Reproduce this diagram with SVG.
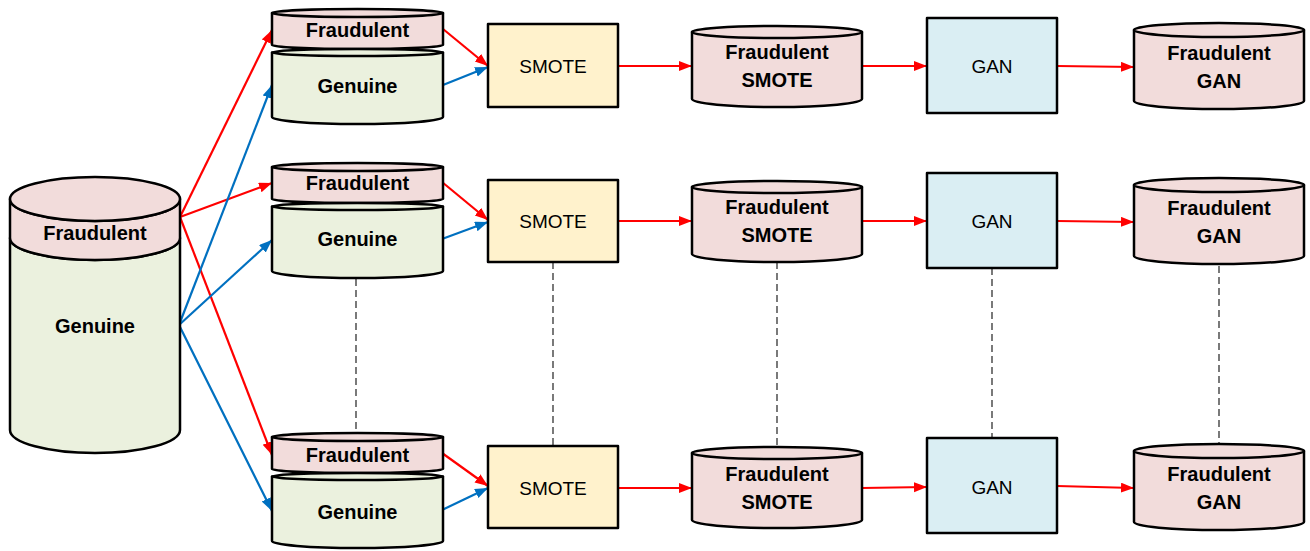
<svg xmlns="http://www.w3.org/2000/svg" width="1310" height="551" viewBox="0 0 1310 551">
<style>
.o{stroke:#000;stroke-width:2.5;stroke-linejoin:round}
.fr{fill:#F2DCDB}
.ge{fill:#EBF1DE}
.sm{fill:#FFF2CC}
.ga{fill:#DAEEF3}
.b{font-family:"Liberation Sans",Arial,sans-serif;font-weight:bold;font-size:20px;fill:#000;text-anchor:middle}
.r{font-family:"Liberation Sans",Arial,sans-serif;font-size:19px;fill:#000;text-anchor:middle}
.ar{stroke:#FF0000;stroke-width:2.2;fill:none}
.ab{stroke:#0070C0;stroke-width:2.2;fill:none}
.d{stroke:#222;stroke-width:1.2;stroke-dasharray:7 4;fill:none}
</style>
<defs>
<marker id="mr" markerUnits="userSpaceOnUse" markerWidth="15" markerHeight="12" refX="13" refY="5" orient="auto"><path d="M0,0 L13,5 L0,10 Z" fill="#FF0000"/></marker>
<marker id="mb" markerUnits="userSpaceOnUse" markerWidth="15" markerHeight="12" refX="13" refY="5" orient="auto"><path d="M0,0 L13,5 L0,10 Z" fill="#0070C0"/></marker>
</defs>

<g id="connectors">
<line class="d" x1="356" y1="279" x2="356" y2="433"/>
<line class="d" x1="553" y1="262" x2="553" y2="446"/>
<line class="d" x1="777" y1="262" x2="777" y2="448"/>
<line class="d" x1="992" y1="268" x2="992" y2="438"/>
<line class="d" x1="1219" y1="266" x2="1219" y2="444"/>
<line class="ar" x1="180" y1="217" x2="272" y2="30" marker-end="url(#mr)"/>
<line class="ar" x1="180" y1="217" x2="272" y2="183" marker-end="url(#mr)"/>
<line class="ar" x1="180" y1="217" x2="272" y2="455" marker-end="url(#mr)"/>
<line class="ab" x1="179" y1="325" x2="272" y2="85" marker-end="url(#mb)"/>
<line class="ab" x1="179" y1="325" x2="272" y2="240" marker-end="url(#mb)"/>
<line class="ab" x1="179" y1="325" x2="272" y2="511" marker-end="url(#mb)"/>
<line class="ar" x1="443" y1="29" x2="488" y2="66" marker-end="url(#mr)"/>
<line class="ab" x1="443" y1="85" x2="488" y2="67" marker-end="url(#mb)"/>
<line class="ar" x1="442" y1="182" x2="488" y2="220" marker-end="url(#mr)"/>
<line class="ab" x1="442" y1="239" x2="488" y2="222" marker-end="url(#mb)"/>
<line class="ar" x1="442" y1="453" x2="488" y2="486" marker-end="url(#mr)"/>
<line class="ab" x1="442" y1="510" x2="488" y2="488" marker-end="url(#mb)"/>
<line class="ar" x1="618" y1="66" x2="692" y2="66" marker-end="url(#mr)"/>
<line class="ar" x1="862" y1="66" x2="927" y2="66" marker-end="url(#mr)"/>
<line class="ar" x1="1057" y1="66" x2="1134" y2="67" marker-end="url(#mr)"/>
<line class="ar" x1="618" y1="221" x2="692" y2="221" marker-end="url(#mr)"/>
<line class="ar" x1="862" y1="221" x2="927" y2="221" marker-end="url(#mr)"/>
<line class="ar" x1="1057" y1="221" x2="1134" y2="222" marker-end="url(#mr)"/>
<line class="ar" x1="618" y1="488" x2="692" y2="488" marker-end="url(#mr)"/>
<line class="ar" x1="862" y1="488" x2="927" y2="487" marker-end="url(#mr)"/>
<line class="ar" x1="1057" y1="486" x2="1134" y2="488" marker-end="url(#mr)"/>
</g>

<g id="dataset">
<path class="o ge" d="M10,238 A85,22 0 0 0 180,238 L180,430 A85,23 0 0 1 10,430 Z"/>
<path class="o fr" d="M10,199 A85,22 0 0 0 180,199 L180,238 A85,22 0 0 1 10,238 Z"/>
<ellipse class="o fr" cx="95" cy="199" rx="85" ry="22"/>
<text class="b" x="95" y="240">Fraudulent</text>
<text class="b" x="95" y="333">Genuine</text>
</g>

<g id="fraud1">
<path class="o fr" d="M272,13 L272,45 A85.5,4 0 0 0 443,45 L443,13 Z"/>
<ellipse class="o fr" cx="357.5" cy="13" rx="85.5" ry="4"/>
<text class="b" x="357.5" y="37">Fraudulent</text>
</g>
<g id="genuine1">
<path class="o ge" d="M272,52.5 L272,117 A85.5,7 0 0 0 443,117 L443,52.5 Z"/>
<ellipse class="o ge" cx="357.5" cy="52.5" rx="85.5" ry="3.5"/>
<text class="b" x="357.5" y="93">Genuine</text>
</g>
<g id="fraud2">
<path class="o fr" d="M272,167 L272,199 A85.5,4 0 0 0 443,199 L443,167 Z"/>
<ellipse class="o fr" cx="357.5" cy="167" rx="85.5" ry="4"/>
<text class="b" x="357.5" y="190">Fraudulent</text>
</g>
<g id="genuine2">
<path class="o ge" d="M272,206.5 L272,271 A85.5,7 0 0 0 443,271 L443,206.5 Z"/>
<ellipse class="o ge" cx="357.5" cy="206.5" rx="85.5" ry="3.5"/>
<text class="b" x="357.5" y="246">Genuine</text>
</g>
<g id="fraud3">
<path class="o fr" d="M272,437 L272,469 A85.5,4 0 0 0 443,469 L443,437 Z"/>
<ellipse class="o fr" cx="357.5" cy="437" rx="85.5" ry="4"/>
<text class="b" x="357.5" y="462">Fraudulent</text>
</g>
<g id="genuine3">
<path class="o ge" d="M272,476.5 L272,541 A85.5,7 0 0 0 443,541 L443,476.5 Z"/>
<ellipse class="o ge" cx="357.5" cy="476.5" rx="85.5" ry="3.5"/>
<text class="b" x="357.5" y="519">Genuine</text>
</g>

<g id="smote1"><rect class="o sm" x="488" y="24" width="130" height="83"/><text class="r" x="553" y="73">SMOTE</text></g>
<g id="smote2"><rect class="o sm" x="488" y="180" width="130" height="82"/><text class="r" x="553" y="228">SMOTE</text></g>
<g id="smote3"><rect class="o sm" x="488" y="446" width="130" height="82"/><text class="r" x="553" y="495">SMOTE</text></g>

<g id="fsmote1">
<path class="o fr" d="M692,32 L692,99 A85,8 0 0 0 862,99 L862,32 Z"/>
<ellipse class="o fr" cx="777" cy="32" rx="85" ry="6"/>
<text class="b" x="777" y="59">Fraudulent</text><text class="b" x="777" y="87">SMOTE</text>
</g>
<g id="fsmote2">
<path class="o fr" d="M692,187 L692,254 A85,8 0 0 0 862,254 L862,187 Z"/>
<ellipse class="o fr" cx="777" cy="187" rx="85" ry="6"/>
<text class="b" x="777" y="214">Fraudulent</text><text class="b" x="777" y="242">SMOTE</text>
</g>
<g id="fsmote3">
<path class="o fr" d="M692,453 L692,520 A85,8 0 0 0 862,520 L862,453 Z"/>
<ellipse class="o fr" cx="777" cy="453" rx="85" ry="6"/>
<text class="b" x="777" y="481">Fraudulent</text><text class="b" x="777" y="509">SMOTE</text>
</g>

<g id="gan1"><rect class="o ga" x="927" y="18" width="130" height="95"/><text class="r" x="992" y="73">GAN</text></g>
<g id="gan2"><rect class="o ga" x="927" y="173" width="130" height="95"/><text class="r" x="992" y="228">GAN</text></g>
<g id="gan3"><rect class="o ga" x="927" y="438" width="130" height="95"/><text class="r" x="992" y="494">GAN</text></g>

<g id="fgan1">
<path class="o fr" d="M1134,30 L1134,101 A85,8 0 0 0 1304,101 L1304,30 Z"/>
<ellipse class="o fr" cx="1219" cy="30" rx="85" ry="7"/>
<text class="b" x="1219" y="60">Fraudulent</text><text class="b" x="1219" y="88">GAN</text>
</g>
<g id="fgan2">
<path class="o fr" d="M1134,185 L1134,256 A85,8 0 0 0 1304,256 L1304,185 Z"/>
<ellipse class="o fr" cx="1219" cy="185" rx="85" ry="7"/>
<text class="b" x="1219" y="215">Fraudulent</text><text class="b" x="1219" y="243">GAN</text>
</g>
<g id="fgan3">
<path class="o fr" d="M1134,451 L1134,522 A85,8 0 0 0 1304,522 L1304,451 Z"/>
<ellipse class="o fr" cx="1219" cy="451" rx="85" ry="7"/>
<text class="b" x="1219" y="481">Fraudulent</text><text class="b" x="1219" y="509">GAN</text>
</g>
</svg>
